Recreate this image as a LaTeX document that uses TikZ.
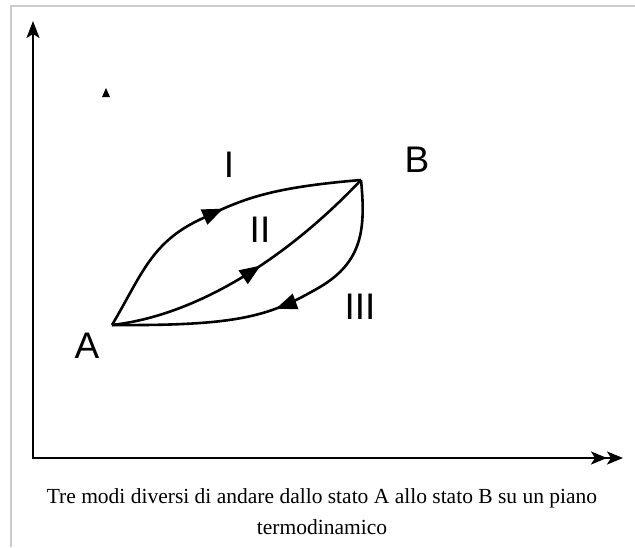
\documentclass[tikz,border=0pt]{standalone}
\usepackage{fontspec}
\setmainfont{Liberation Serif}
\newfontfamily\labfont{Liberation Sans}
\usetikzlibrary{arrows.meta,decorations.markings}
\definecolor{framegray}{RGB}{204,204,204}
\tikzset{
  curve/.style={line width=2.6pt, line join=round},
  midarrow/.style={postaction={decorate},decoration={markings,
    mark=at position #1 with {\arrow{Triangle[length=21pt,width=16pt]}}}},
  axis/.style={line width=2pt},
  lab/.style={font=\labfont\fontsize{37}{44}\selectfont, inner sep=0pt},
  captext/.style={font=\fontsize{21.5}{31}\selectfont, align=center, inner sep=0pt}
}
\begin{document}
\begin{tikzpicture}[x=1pt,y=-1pt]
\useasboundingbox (0,0) rectangle (635,547);
% frame
\draw[framegray, line width=1.5pt] (11,547) -- (11,6) -- (635,6);
% axes
\coordinate (O) at (33,458);
\coordinate (Ytop) at (33,21);
\coordinate (Xend) at (623,458);
\draw[axis, -{Stealth[length=17pt,width=13pt,inset=4pt]}] (33,459) -- (Ytop);
\draw[axis, -{Stealth[length=16pt,width=13pt,inset=4pt] Stealth[length=16pt,width=13pt,inset=4pt]}] (32,458) -- (Xend);
% tiny mark
\fill (102,97) -- (106,88) -- (110,97) -- cycle;
% states
\coordinate (A) at (112,325);
\coordinate (B) at (361,180);
% path I
\draw[curve, midarrow=0.54] (A) .. controls (140,278) and (150,245) .. (195,222)
   .. controls (240,200) and (265,188) .. (B);
% path II
\draw[curve, midarrow=0.55] (A) .. controls (200,315) and (290,255) .. (B);
% path III
\draw[curve, midarrow=0.51] (B) .. controls (366,230) and (362,262) .. (320,287)
   .. controls (270,316) and (240,326) .. (A);
% labels
\node[lab] (lA) at (87,346) {A};
\node[lab] (lB) at (417,160) {B};
\node[lab] (lI) at (229,165) {I};
\node[lab] (lII) at (260,230) {II};
\node[lab] (lIII) at (360,307) {III};
% caption
\node[captext] (caption) at (322,512) {Tre modi diversi di andare dallo stato A allo stato B su un piano\\termodinamico};
\end{tikzpicture}
\end{document}
